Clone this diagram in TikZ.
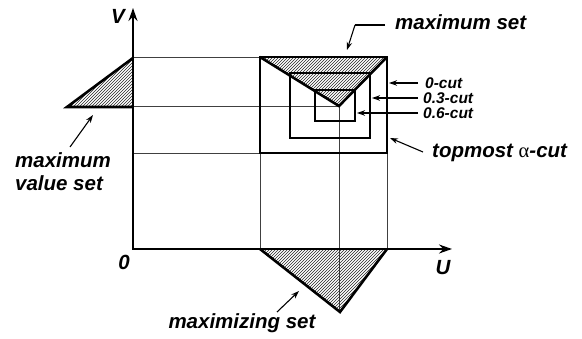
\documentclass[tikz,border=0pt]{standalone}
\usepackage{fontspec}
\setmainfont{Liberation Sans}
\newfontfamily\grk{Liberation Serif}
\usetikzlibrary{patterns,arrows.meta}
\begin{document}
\begin{tikzpicture}[x=1pt,y=-1pt,
  lbl/.style={font=\fontsize{20.5}{23}\selectfont\bfseries\itshape, inner sep=0pt},
  sml/.style={font=\fontsize{15.5}{18}\selectfont\bfseries\itshape, inner sep=0pt},
  thick line/.style={line width=2.6pt, line join=miter},
  axis/.style={line width=2pt, -{Stealth[length=13pt,width=9pt]}},
  guide/.style={line width=0.6pt, black!75},
  pointer/.style={line width=1.1pt, -{Stealth[length=8pt,width=5.5pt]}},
  hatch/.style={pattern=north east lines, pattern color=black!85}
]
\useasboundingbox (0,0) rectangle (582,339);

% coordinates
\coordinate (O) at (133,249);
\coordinate (Vtip) at (133,8);
\coordinate (Utip) at (452,249);

% guide lines
\draw[guide] (133,57) -- (260,57);
\draw[guide] (133,106) -- (339,106);
\draw[guide] (133,153) -- (260,153);
\draw[guide] (260,57) -- (260,249);
\draw[guide] (339,106) -- (339,312);
\draw[guide] (387,153) -- (387,249);

% hatched shapes
\fill[hatch] (67,107) -- (133,58) -- (133,107) -- cycle;
\draw[thick line] (133,107) -- (67,107) -- (133,58);
\fill[hatch] (260,249) -- (387,249) -- (340,312) -- cycle;
\draw[thick line] (260,249) -- (340,312) -- (387,249);
\fill[hatch] (260,57) -- (387,57) -- (339,106) -- cycle;

% rectangles
\draw[thick line] (260,57) rectangle (387,153);
\draw[thick line] (290,73) rectangle (370,138);
\draw[thick line] (315,90) rectangle (355,121);
\draw[thick line] (260,57) -- (339,106) -- (387,57);

% axes
\draw[axis] (O) -- (Vtip);
\draw[axis] ([xshift=-1pt]O) -- (Utip);

% labels
\node[lbl] (lV) at (118,16) {V};
\node[lbl] (lU) at (443,268) {U};
\node[lbl] (l0) at (124,262) {0};
\node[lbl, anchor=west] (maxset) at (395,22) {maximum set};
\node[sml, anchor=west] (c0) at (425,83) {0-cut};
\node[sml, anchor=west] (c3) at (423,98) {0.3-cut};
\node[sml, anchor=west] (c6) at (423,113) {0.6-cut};
\node[lbl, anchor=west] (top) at (432,153) {topmost {\grk\mdseries\upshape α}-cut};
\node[lbl, align=left] (mvs) at (63,172) {maximum\\value set};
\node[lbl] (maxing) at (242,323) {maximizing set};

% pointer coordinates
\coordinate (msA) at (385,25);
\coordinate (msB) at (355,25);
\coordinate (msC) at (347,50);
\coordinate (c0a) at (418,83);  \coordinate (c0b) at (389,83);
\coordinate (c3a) at (418,98);  \coordinate (c3b) at (372,98);
\coordinate (c6a) at (418,113); \coordinate (c6b) at (357,113);
\coordinate (tpa) at (423,152); \coordinate (tpb) at (390,138);
\coordinate (mva) at (70,147);  \coordinate (mvb) at (93,115);
\coordinate (mga) at (277,312); \coordinate (mgb) at (299,291);

\draw[line width=1.1pt] (msA) -- (msB);
\draw[pointer] (msB) -- (msC);
\draw[pointer] (c0a) -- (c0b);
\draw[pointer] (c3a) -- (c3b);
\draw[pointer] (c6a) -- (c6b);
\draw[pointer] (tpa) -- (tpb);
\draw[pointer] (mva) -- (mvb);
\draw[pointer] (mga) -- (mgb);
\end{tikzpicture}
\end{document}
